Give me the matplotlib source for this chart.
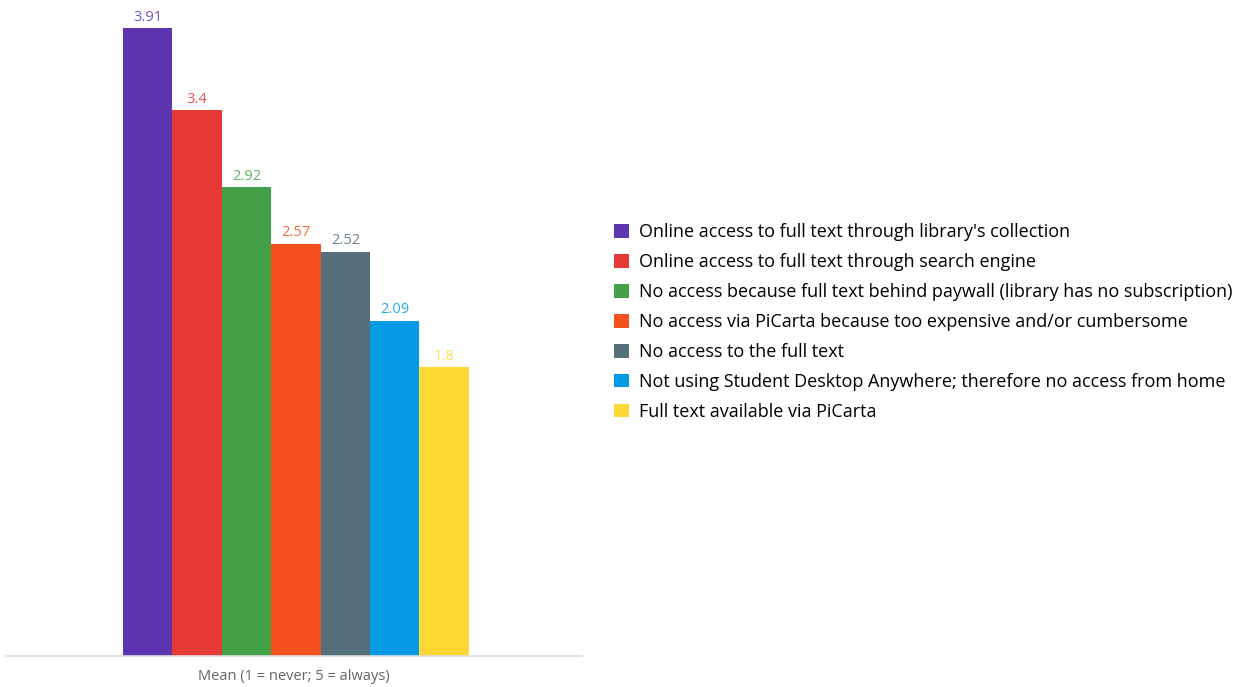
import matplotlib.pyplot as plt

# survey answers, mean score per access reason
labels = [
    "Online access to full text through library's collection",
    "Online access to full text through search engine",
    "No access because full text behind paywall (library has no subscription)",
    "No access via PiCarta because too expensive and/or cumbersome",
    "No access to the full text",
    "Not using Student Desktop Anywhere; therefore no access from home",
    "Full text available via PiCarta",
]
means = [3.91, 3.4, 2.92, 2.57, 2.52, 2.09, 1.8]
colors = ["#5E35B1", "#E53935", "#43A047", "#F4511E", "#546E7A", "#039BE5", "#FDD835"]

plt.rcParams['font.family'] = ['Open Sans', 'DejaVu Sans']

fig = plt.figure(figsize=(12.44, 6.87), dpi=100)
ax = fig.add_axes([6/1244, 31/687, 576/1244, 642/687])

xs = list(range(len(means)))
bars = ax.bar(xs, means, width=1.0, color=colors, linewidth=0)

for x, v, c in zip(xs, means, colors):
    ax.text(x, v + 0.02, f"{v:g}", ha='center', va='bottom', fontsize=10.5,
            color=c, alpha=0.85)

ax.set_xlim(-2.87, 8.79)
ax.set_ylim(0, 4)
for s in ['top', 'right', 'left']:
    ax.spines[s].set_visible(False)
ax.spines['bottom'].set_color('#dddddd')
ax.spines['bottom'].set_linewidth(1.2)
ax.set_xticks([])
ax.set_yticks([])
ax.set_xlabel("Mean (1 = never; 5 = always)", fontsize=10.5, color='#666666', labelpad=9)

fig.legend(bars, labels, loc='upper left', bbox_to_anchor=(607/1244, 1 - 216/687),
           frameon=False, fontsize=13, handlelength=0.8, handleheight=0.8,
           handletextpad=0.55, labelspacing=0.66, borderaxespad=0)

fig.savefig("out.png", dpi=100)
